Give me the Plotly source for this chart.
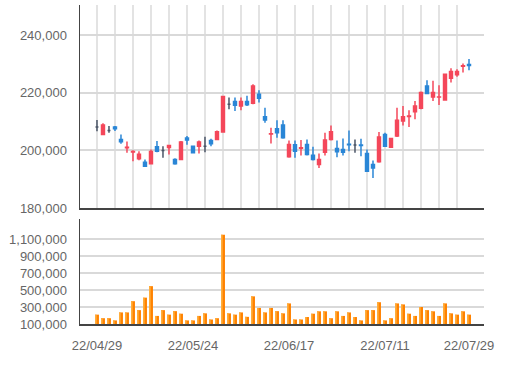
import plotly.graph_objects as go

dates = [
    "22/04/29",
    "22/05/02", "22/05/03", "22/05/04", "22/05/06", "22/05/09", "22/05/10", "22/05/11",
    "22/05/12", "22/05/13", "22/05/16", "22/05/17", "22/05/18", "22/05/19", "22/05/20",
    "22/05/23", "22/05/24", "22/05/25", "22/05/26", "22/05/27", "22/05/30", "22/05/31",
    "22/06/02", "22/06/03", "22/06/07", "22/06/08", "22/06/09", "22/06/10", "22/06/13",
    "22/06/14", "22/06/15", "22/06/16", "22/06/17", "22/06/20", "22/06/21", "22/06/22",
    "22/06/23", "22/06/24", "22/06/27", "22/06/28", "22/06/29", "22/06/30", "22/07/01",
    "22/07/04", "22/07/05", "22/07/06", "22/07/07", "22/07/08", "22/07/11", "22/07/12",
    "22/07/13", "22/07/14", "22/07/15", "22/07/18", "22/07/19", "22/07/20", "22/07/21",
    "22/07/22", "22/07/25", "22/07/26", "22/07/27", "22/07/28", "22/07/29",
]

open_ = [
    208100, 205565, 206950, 208115, 203826, 200928, 199500, 197102, 195942, 195362,
    201276, 200000, 201043, 196870, 196870, 204289, 201507, 201507, 201507, 203478,
    203826, 206376, 216000, 216927, 215418, 216927, 216347, 219477, 211710, 205700,
    207535, 208810, 197798, 201971, 200800, 202087, 198377, 195130, 199420, 203826,
    200700, 200350, 202150, 201855, 201900, 198957, 195130, 196058, 205565, 201159,
    204985, 210202, 211800, 213448, 214608, 222374, 218549, 218500, 217505, 225042,
    226201, 229200, 229795,
]
high = [
    210550, 209390, 208463, 208463, 205565, 203130, 200116, 199768, 196870, 200348,
    203246, 201507, 201855, 197333, 203246, 204985, 201739, 203478, 204753, 204057,
    206900, 218896, 218319, 218319, 218319, 219000, 222955, 220868, 214840, 207884,
    210434, 210434, 203478, 203478, 203594, 203826, 201276, 198957, 206145, 208695,
    203478, 204174, 206956, 203826, 204057, 200300, 196522, 206376, 206145, 204400,
    214840, 215418, 213912, 217157, 220405, 224346, 224114, 222607, 226665, 228520,
    228172, 230142, 231650,
]
low = [
    206700, 205565, 206145, 206725, 202319, 199188, 196290, 196638, 194318, 195130,
    199420, 197450, 198609, 195014, 196870, 201971, 198957, 198957, 199420, 201507,
    203700, 206145, 214260, 213680, 213912, 215418, 216000, 216579, 209623, 202435,
    204405, 204057, 197450, 197450, 198261, 198261, 196522, 193971, 198261, 203478,
    197681, 198261, 199768, 199188, 198000, 192811, 190494, 195710, 201276, 201100,
    204637, 208695, 208115, 210782, 214260, 219477, 217157, 215766, 217505, 223534,
    225506, 227013, 227824,
]
close = [
    208100, 208810, 206950, 207535, 203015, 201159, 199652, 198724, 194550, 199652,
    199768, 200000, 201739, 195362, 202898, 203594, 199188, 202898, 201507, 202319,
    206492, 218665, 216000, 215651, 216927, 215883, 222374, 218086, 210550, 205797,
    206145, 204405, 202087, 199768, 200928, 198609, 196870, 196870, 203594, 206492,
    199536, 199420, 202000, 201855, 201700, 192811, 193971, 204637, 201507, 204174,
    210434, 211710, 211942, 215418, 220057, 219709, 220057, 218549, 226433, 227361,
    227361, 229330, 229400,
]
volume = [
    210000, 168000, 168000, 142000, 236000, 236000, 368000, 263000, 410000, 545000,
    195000, 263000, 210000, 251000, 221000, 142000, 142000, 195000, 225000, 153000,
    168000, 1150000, 225000, 210000, 236000, 184000, 425000, 289000, 236000, 289000,
    251000, 225000, 342000, 153000, 153000, 182000, 221000, 249000, 249000, 168000,
    249000, 195000, 236000, 182000, 142000, 263000, 263000, 356000, 142000, 168000,
    342000, 330000, 221000, 195000, 300000, 263000, 249000, 195000, 342000, 225000,
    210000, 249000, 210000,
]

price_ticks = [180000, 200000, 220000, 240000]
volume_ticks = [100000, 300000, 500000, 700000, 900000, 1100000]
date_ticks = ["22/04/29", "22/05/24", "22/06/17", "22/07/11", "22/07/29"]

RED = "#f4475a"
BLUE = "#2a86d6"
GRAY = "#4a5567"

main_idx = [i for i in range(len(dates)) if open_[i] != close[i]]
doji_idx = [i for i in range(len(dates)) if open_[i] == close[i]]


def pick(arr, idx):
    return [arr[i] for i in idx]


fig = go.Figure()
fig.add_trace(go.Candlestick(
    x=pick(dates, main_idx), open=pick(open_, main_idx), high=pick(high, main_idx),
    low=pick(low, main_idx), close=pick(close, main_idx),
    increasing=dict(line=dict(color=RED, width=1.5), fillcolor=RED),
    decreasing=dict(line=dict(color=BLUE, width=1.5), fillcolor=BLUE),
    xaxis="x", yaxis="y", showlegend=False, hoverinfo="skip",
))
fig.add_trace(go.Candlestick(
    x=pick(dates, doji_idx), open=pick(open_, doji_idx), high=pick(high, doji_idx),
    low=pick(low, doji_idx), close=pick(close, doji_idx),
    increasing=dict(line=dict(color=GRAY, width=1.5), fillcolor=GRAY),
    decreasing=dict(line=dict(color=GRAY, width=1.5), fillcolor=GRAY),
    xaxis="x", yaxis="y", showlegend=False, hoverinfo="skip",
))
vol_base = volume_ticks[0]
vol_h = [v - vol_base for v in volume]
# darker full bar
fig.add_trace(go.Bar(
    x=dates, y=vol_h, base=vol_base,
    marker=dict(color="#ff8200", line=dict(width=0)),
    width=0.66, offset=-0.33, xaxis="x2", yaxis="y2",
    showlegend=False, hoverinfo="skip",
))
# lighter left part for the gradient look
fig.add_trace(go.Bar(
    x=dates, y=vol_h, base=vol_base,
    marker=dict(color="#ffae3d", line=dict(width=0)),
    width=0.28, offset=-0.33, xaxis="x2", yaxis="y2",
    showlegend=False, hoverinfo="skip",
))

font = dict(family="Liberation Sans, Arial, sans-serif", size=13, color="#666666")
xr = [-2.83, 64.5]

fig.update_layout(
    width=512, height=372,
    margin=dict(l=80, r=28, t=5, b=47.5),
    paper_bgcolor="white", plot_bgcolor="white",
    font=font,
    boxgap=0.3,
    barmode="overlay",
    hovermode=False,
    xaxis=dict(
        domain=[0, 1], anchor="y", type="category",
        categoryorder="array", categoryarray=dates,
        range=xr, rangeslider=dict(visible=False),
        tickmode="linear", tick0=0, dtick=3,
        showticklabels=False, ticks="",
        showgrid=True, gridcolor="#e3e3e3", gridwidth=1.5,
        showline=True, linecolor="#444444", linewidth=1.5,
        zeroline=False, automargin=False,
    ),
    yaxis=dict(
        domain=[0.363, 1], anchor="x",
        range=[180000, 250400],
        tickmode="array", tickvals=price_ticks,
        ticktext=[f"{v:,}" for v in price_ticks],
        showgrid=True, gridcolor="#d9d9d9", gridwidth=2,
        showline=True, linecolor="#444444", linewidth=1.5,
        ticks="", zeroline=False, automargin=False,
        ticklabelstandoff=9,
    ),
    xaxis2=dict(
        domain=[0, 1], anchor="y2", type="category",
        categoryorder="array", categoryarray=dates,
        range=xr,
        tickmode="array", tickvals=date_ticks, ticktext=date_ticks,
        showgrid=False, ticks="",
        showline=True, linecolor="#444444", linewidth=1.5,
        zeroline=False, automargin=False,
        ticklabelstandoff=9,
    ),
    yaxis2=dict(
        domain=[0, 0.330], anchor="x2",
        range=[100000, 1338000],
        tickmode="array", tickvals=volume_ticks,
        ticktext=[f"{v:,}" for v in volume_ticks],
        showgrid=True, gridcolor="#d9d9d9", gridwidth=2,
        showline=True, linecolor="#444444", linewidth=1.5,
        ticks="", zeroline=False, automargin=False,
        ticklabelstandoff=9,
    ),
)

fig.write_html(
    "out.html",
    config={"displayModeBar": False, "staticPlot": True},
    post_script="document.body.style.margin='0px';document.body.style.overflow='hidden';",
)
